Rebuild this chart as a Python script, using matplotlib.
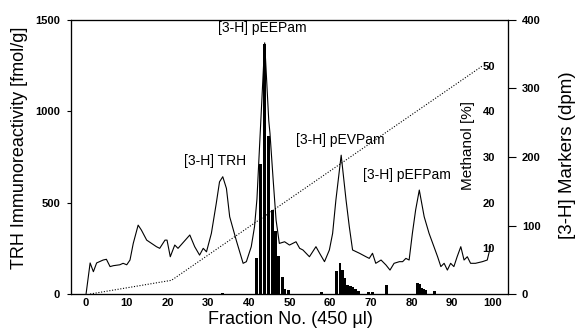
import matplotlib
matplotlib.use("Agg")
import matplotlib.pyplot as plt

plt.rcParams['font.family'] = ['Liberation Sans', 'DejaVu Sans']

# TRH immunoreactivity (fmol/g) vs fraction
trh_frac = [0, 1.0, 1.8, 2.6, 4.2, 5.0, 5.9, 6.7, 8.3, 9.1, 10.0, 10.8, 11.6, 12.8, 13.6,
            14.9, 17.3, 18.1, 19.4, 19.9, 20.7, 21.8, 22.6, 25.5, 26.7, 27.9, 28.8, 29.6,
            30.8, 32.0, 32.8, 33.6, 34.5, 35.3, 36.9, 38.6, 39.4, 40.6, 41.4, 42.0, 42.8,
            43.9, 44.9, 45.2, 46.0, 46.7, 47.5, 48.8, 50.0, 51.6, 52.5, 53.3, 54.9, 56.5,
            57.4, 58.6, 59.8, 60.6, 61.0, 61.4, 62.7, 63.9, 64.7, 65.5, 67.2, 68.8, 69.6,
            70.4, 71.2, 72.5, 73.7, 74.7, 75.7, 77.0, 77.8, 78.6, 79.4, 80.2, 81.0, 81.9,
            83.1, 84.3, 85.5, 86.4, 87.2, 88.0, 88.8, 89.6, 90.4, 91.2, 92.1, 92.9, 93.7,
            94.5, 95.7, 97.4, 98.6, 99.4]
trh_vals = [0, 170, 122, 170, 186, 190, 150, 155, 160, 168, 160, 186, 277, 377, 350,
            295, 259, 250, 295, 295, 204, 268, 250, 323, 259, 213, 250, 231,
            332, 496, 614, 642, 578, 423, 295, 168, 177, 259, 368, 520, 880,
            1375, 950, 880, 620, 405, 277, 286, 268, 286, 250, 241, 204, 259,
            223, 177, 241, 332, 423, 514, 760, 514, 368, 241, 223, 204, 195,
            223, 168, 186, 159, 131, 168, 177, 177, 195, 186, 332, 460, 569,
            423, 332, 259, 204, 150, 168, 131, 168, 150, 204, 259, 186, 204,
            168, 168, 177, 186, 259]

# Methanol gradient (%)
meoh_frac = [1, 21, 97.5]
meoh_pct = [0, 3, 50]

# [3-H] marker radioactivity (dpm)
marker_frac = [33.5, 41.8, 42.9, 43.9, 44.9, 45.8, 46.6, 47.4, 48.2, 48.9, 49.8,
               57.8, 61.6, 62.4, 63.0, 63.5, 64.2, 64.9, 65.6, 66.2, 67.0, 69.5, 70.5,
               73.8, 81.5, 81.9, 82.5, 83.0, 83.5, 85.7]
marker_dpm = [2, 53, 190, 365, 230, 122, 92, 55, 25, 8, 6,
              3, 33, 45, 35, 24, 13, 12, 10, 8, 4, 3, 3,
              13, 16, 14, 9, 7, 6, 4]

labels = ["[3-H] pEEPam", "[3-H] TRH", "[3-H] pEVPam", "[3-H] pEFPam"]
label_x = [43.2, 31.8, 62.4, 78.9]
label_y = [1455, 727, 842, 651]

x_ticks = list(range(0, 101, 10))
left_ticks = [0, 500, 1000, 1500]
dpm_ticks = [0, 100, 200, 300, 400]
meoh_ticks = [10, 20, 30, 40, 50]

fig = plt.figure(figsize=(5.78, 3.3), dpi=100)
ax = fig.add_axes([71/578, 1-294/330, 437/578, 274/330])
ax2 = ax.twinx()
ax3 = ax.twinx()

tickfont = dict(fontsize=8, fontweight='bold')

ax.set_xlim(-3.7, 103.7)
ax.set_ylim(0, 1500)
ax.plot(trh_frac, trh_vals, color='black', lw=0.8)
ax.set_xticks(x_ticks)
ax.set_yticks(left_ticks)
ax.set_xticklabels([str(t) for t in x_ticks], **tickfont)
ax.set_yticklabels([str(t) for t in left_ticks], **tickfont)
ax.tick_params(axis='x', length=0, pad=3)
ax.tick_params(axis='y', length=3, width=0.8, pad=5)

ax2.set_ylim(0, 400)
ax2.bar(marker_frac, marker_dpm, width=0.7, color='black', linewidth=0)
ax2.set_yticks(dpm_ticks)
ax2.set_yticklabels([str(t) for t in dpm_ticks], **tickfont)
ax2.tick_params(axis='y', length=6, width=0.8, pad=4)

ax3.set_ylim(0, 60)
ax3.plot(meoh_frac, meoh_pct, color='black', lw=0.8, linestyle=(0, (1, 1.5)))
ax3.set_yticks(meoh_ticks)
ax3.set_yticklabels([str(t) for t in meoh_ticks], **tickfont)
ax3.tick_params(axis='y', length=0, pad=-9.4)
for t in ax3.get_yticklabels():
    t.set_horizontalalignment('right')

for a in (ax, ax2, ax3):
    for s in a.spines.values():
        s.set_linewidth(0.8)

for txt, lx, ly in zip(labels, label_x, label_y):
    ax.text(lx, ly, txt, ha='center', va='center', fontsize=10)

fig.text(20/578, 1-148/330, "TRH Immunoreactivity [fmol/g]", rotation=90,
         ha='center', va='center', fontsize=13)
fig.text(468/578, 1-145/330, "Methanol [%]", rotation=90,
         ha='center', va='center', fontsize=11)
fig.text(568/578, 1-155/330, "[3-H] Markers (dpm)", rotation=90,
         ha='center', va='center', fontsize=13.5)
fig.text(290/578, 1-320/330, "Fraction No. (450 \u00b5l)",
         ha='center', va='center', fontsize=13)

fig.savefig("out.png", dpi=100)
